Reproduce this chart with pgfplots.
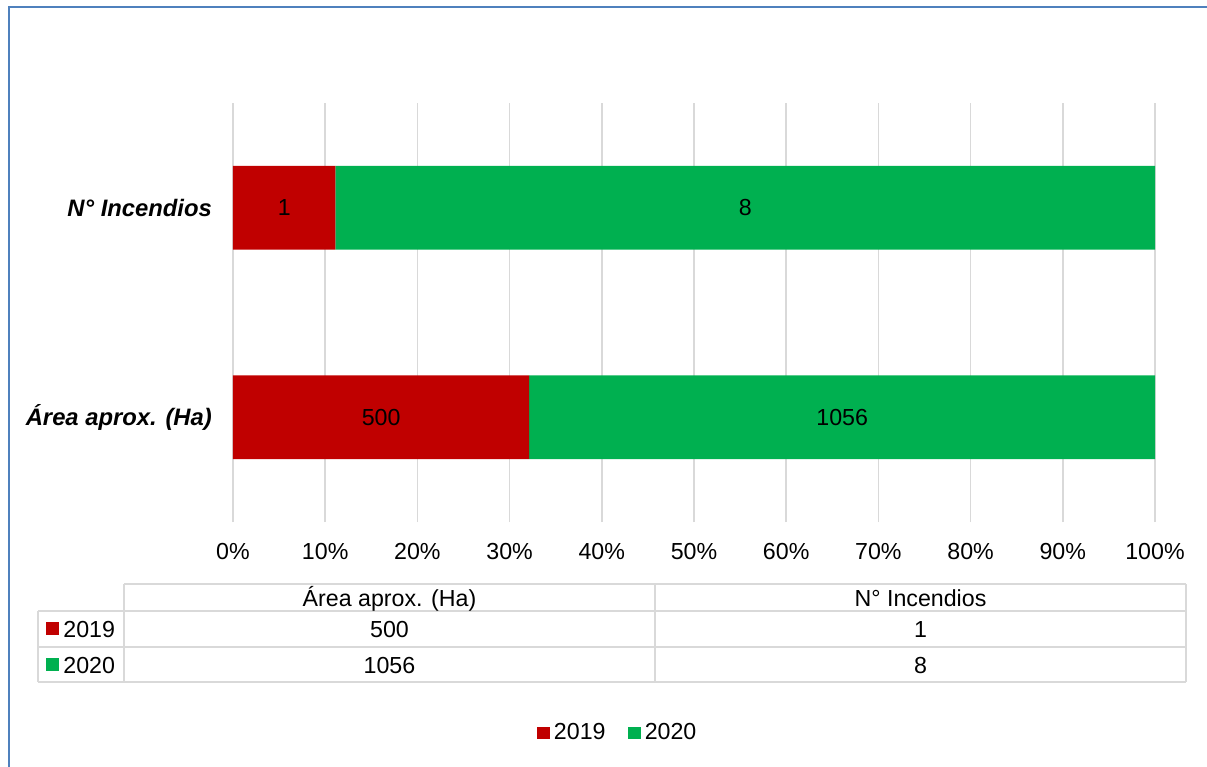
\documentclass[border=0pt]{standalone}
\usepackage{pgfplots}
\pgfplotsset{compat=1.18}
\usepackage{fontspec}
\setmainfont{Liberation Sans}
\definecolor{cred}{HTML}{C00000}
\definecolor{cgreen}{HTML}{00B050}
\definecolor{cgrid}{HTML}{D9D9D9}
\definecolor{cborder}{HTML}{4F81BD}
\newcommand{\fs}{\fontsize{11.6pt}{13.9pt}\selectfont}
\newcommand{\fsc}{\fontsize{11.9pt}{14.2pt}\selectfont}
\begin{document}
\fs
\begin{tikzpicture}[font=\fs]
\useasboundingbox (0,0) rectangle (603.5pt,-383.5pt);
\begin{axis}[
  at={(116.5pt,-51.5pt)}, anchor=north west,
  scale only axis, width=461pt, height=209.5pt,
  xbar stacked, bar width=0.4,
  xmin=0, xmax=100, ymin=-0.5, ymax=1.5,
  xtick={0,10,...,100},
  xticklabel={\pgfmathprintnumber{\tick}\%},
  ytick={0,1}, yticklabels={Área aprox. (Ha), N° Incendios},
  yticklabel style={font=\fsc\bfseries\itshape, xshift=-6.5pt},
  xticklabel style={font=\fs, yshift=-6.5pt},
  /pgf/number format/assume math mode=true,
  xmajorgrids, grid style={cgrid, line width=0.75pt},
  axis line style={draw=none}, major tick length=0pt,
  tick style={draw=none},
  legend columns=2,
  legend style={at={(axis description cs:0.3297,-0.5036)}, anchor=west,
    draw=none, fill=none, inner sep=0pt, font=\fs,
    /tikz/every even column/.append style={column sep=9.5pt},
    nodes={inner sep=1.8pt}},
  legend image code/.code={\path[#1] (0pt,-2.9pt) rectangle (6.5pt,3.1pt);},
]
\addplot[fill=cred, draw=none] coordinates {(32.13,0) (11.11,1)};
\addplot[fill=cgreen, draw=none] coordinates {(67.87,0) (88.89,1)};
\legend{2019,2020}
\coordinate (a1) at (axis cs:16.07,0);
\coordinate (a2) at (axis cs:66.07,0);
\coordinate (n1) at (axis cs:5.56,1);
\coordinate (n2) at (axis cs:55.56,1);
\end{axis}
\node at (a1) {500};
\node at (a2) {1056};
\node at (n1) {1};
\node at (n2) {8};
\begin{scope}[x=0.5pt,y=-0.5pt]
\draw[cborder, line width=1pt] (9,767) -- (9,7) -- (1207,7);
\begin{scope}[cgrid, line width=0.75pt]
\draw (124,584) -- (1186,584);
\draw (38,611) -- (1186,611);
\draw (38,647) -- (1186,647);
\draw (38,682) -- (1186,682);
\draw (38,611) -- (38,682);
\draw (124,584) -- (124,682);
\draw (655,584) -- (655,682);
\draw (1186,584) -- (1186,682);
\end{scope}
\node[anchor=base, inner sep=0pt] at (389.5,606) {Área aprox. (Ha)};
\node[anchor=base, inner sep=0pt] at (920.5,606) {N° Incendios};
\node[anchor=base, inner sep=0pt] at (389.5,637) {500};
\node[anchor=base, inner sep=0pt] at (920.5,637) {1};
\node[anchor=base, inner sep=0pt] at (389.5,673) {1056};
\node[anchor=base, inner sep=0pt] at (920.5,673) {8};
\fill[cred] (46,622) rectangle (59,635);
\fill[cgreen] (46,658) rectangle (59,671);
\node[anchor=base west, inner sep=0pt] at (63,637) {2019};
\node[anchor=base west, inner sep=0pt] at (63,673) {2020};
\end{scope}
\end{tikzpicture}
\end{document}
